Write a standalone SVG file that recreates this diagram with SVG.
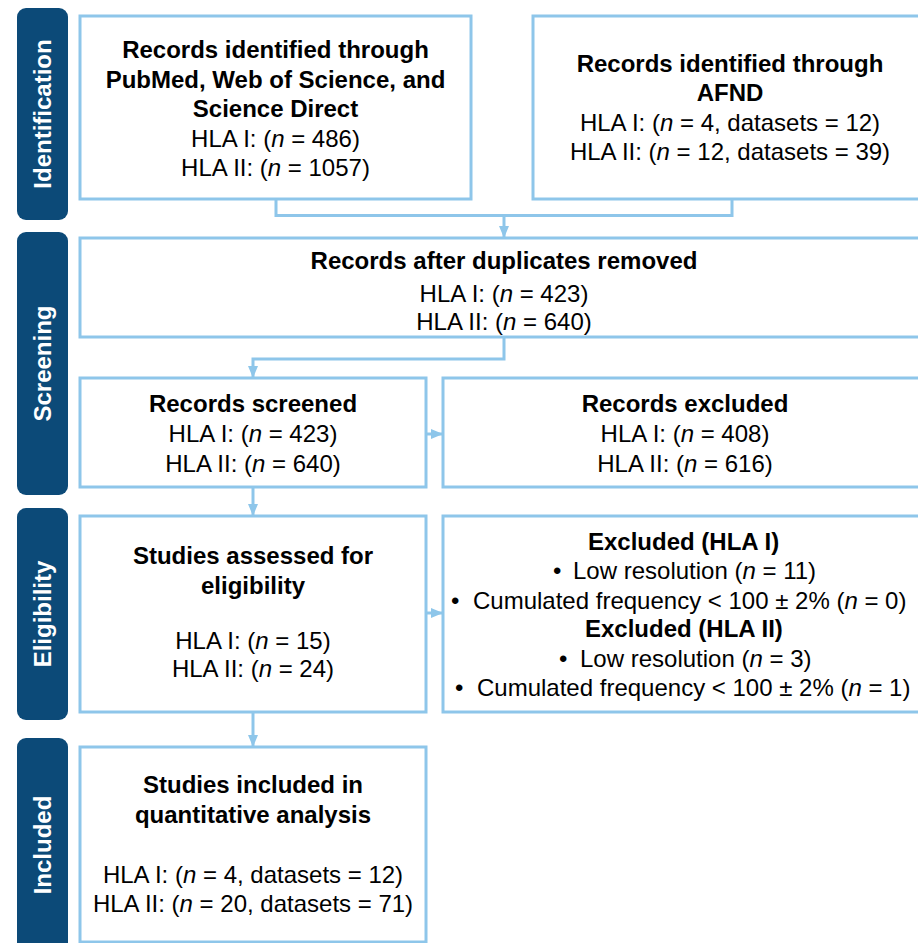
<svg xmlns="http://www.w3.org/2000/svg" width="918" height="943" viewBox="0 0 918 943">
<style>
.bg{fill:#ffffff}
.side{fill:#0c4a78}
.sl{fill:#ffffff;font-family:"Liberation Sans",Arial,sans-serif;font-weight:bold;font-size:24px;text-anchor:middle}
.box{fill:#ffffff;stroke:#8ec6ea;stroke-width:3}
.t{font-family:"Liberation Sans",Arial,sans-serif;font-size:24px;fill:#000000;text-anchor:middle}
.ts{font-family:"Liberation Sans",Arial,sans-serif;font-size:24px;fill:#000000}
.b{font-weight:bold}
.i{font-style:italic}
.con{fill:none;stroke:#8ec6ea;stroke-width:3}
</style>
<defs>
<marker id="ah" markerUnits="userSpaceOnUse" markerWidth="12" markerHeight="12" viewBox="0 0 12 12" refX="12" refY="6" orient="auto">
<path d="M0,1 L12,6 L0,11 Z" fill="#8ec6ea"/>
</marker>
</defs>
<rect class="bg" x="0" y="0" width="918" height="943"/>
<g id="phases">
<g id="phase-identification"><rect class="side" x="17" y="8" width="51" height="212" rx="9"/><text class="sl" transform="translate(50.5,114) rotate(-90)">Identification</text></g>
<g id="phase-screening"><rect class="side" x="17" y="232" width="51" height="263" rx="9"/><text class="sl" transform="translate(50.5,363.5) rotate(-90)">Screening</text></g>
<g id="phase-eligibility"><rect class="side" x="17" y="508" width="51" height="212" rx="9"/><text class="sl" transform="translate(50.5,614) rotate(-90)">Eligibility</text></g>
<g id="phase-included"><rect class="side" x="17" y="738" width="51" height="214" rx="9"/><text class="sl" transform="translate(50.5,845) rotate(-90)">Included</text></g>
</g>
<g id="connectors">
<path class="con" d="M276 199 V215.5 H732 V199"/>
<path class="con" d="M504 215.5 V238" marker-end="url(#ah)"/>
<path class="con" d="M504 337 V359 H253 V378" marker-end="url(#ah)"/>
<path class="con" d="M426 434 H443" marker-end="url(#ah)"/>
<path class="con" d="M253 487 V516" marker-end="url(#ah)"/>
<path class="con" d="M426 613 H443" marker-end="url(#ah)"/>
<path class="con" d="M253 712 V747" marker-end="url(#ah)"/>
</g>
<g id="node-databases">
<rect class="box" x="80" y="16" width="391" height="183"/>
<text class="t b" x="275.5" y="58">Records identified through</text>
<text class="t b" x="275.5" y="87.5">PubMed, Web of Science, and</text>
<text class="t b" x="275.5" y="117">Science Direct</text>
<text class="t" x="275.5" y="146.5">HLA I: (<tspan class="i">n</tspan> = 486)</text>
<text class="t" x="275.5" y="176">HLA II: (<tspan class="i">n</tspan> = 1057)</text>
</g>
<g id="node-afnd">
<rect class="box" x="533" y="16" width="395" height="183"/>
<text class="t b" x="730" y="72">Records identified through</text>
<text class="t b" x="730" y="101">AFND</text>
<text class="t" x="730" y="130.5">HLA I: (<tspan class="i">n</tspan> = 4, datasets = 12)</text>
<text class="t" x="730" y="160">HLA II: (<tspan class="i">n</tspan> = 12, datasets = 39)</text>
</g>
<g id="node-duplicates">
<rect class="box" x="80" y="238" width="848" height="99"/>
<text class="t b" x="504" y="269">Records after duplicates removed</text>
<text class="t" x="504" y="302">HLA I: (<tspan class="i">n</tspan> = 423)</text>
<text class="t" x="504" y="330">HLA II: (<tspan class="i">n</tspan> = 640)</text>
</g>
<g id="node-screened">
<rect class="box" x="80" y="378" width="346" height="109"/>
<text class="t b" x="253" y="412">Records screened</text>
<text class="t" x="253" y="442">HLA I: (<tspan class="i">n</tspan> = 423)</text>
<text class="t" x="253" y="472">HLA II: (<tspan class="i">n</tspan> = 640)</text>
</g>
<g id="node-excluded-records">
<rect class="box" x="443" y="378" width="485" height="109"/>
<text class="t b" x="685" y="412">Records excluded</text>
<text class="t" x="685" y="442">HLA I: (<tspan class="i">n</tspan> = 408)</text>
<text class="t" x="685" y="472">HLA II: (<tspan class="i">n</tspan> = 616)</text>
</g>
<g id="node-assessed">
<rect class="box" x="80" y="516" width="346" height="196"/>
<text class="t b" x="253" y="564">Studies assessed for</text>
<text class="t b" x="253" y="594">eligibility</text>
<text class="t" x="253" y="649">HLA I: (<tspan class="i">n</tspan> = 15)</text>
<text class="t" x="253" y="677">HLA II: (<tspan class="i">n</tspan> = 24)</text>
</g>
<g id="node-excluded-studies">
<rect class="box" x="443" y="516" width="485" height="196"/>
<text class="ts b" x="588" y="550">Excluded (HLA I)</text>
<text class="ts" x="553" y="579">•</text>
<text class="ts" x="573" y="579">Low resolution (<tspan class="i">n</tspan> = 11)</text>
<text class="ts" x="451" y="609">•</text>
<text class="ts" x="473" y="609">Cumulated frequency &lt; 100 ± 2% (<tspan class="i">n</tspan> = 0)</text>
<text class="ts b" x="585" y="637">Excluded (HLA II)</text>
<text class="ts" x="559" y="667">•</text>
<text class="ts" x="580" y="667">Low resolution (<tspan class="i">n</tspan> = 3)</text>
<text class="ts" x="455" y="696">•</text>
<text class="ts" x="477" y="696">Cumulated frequency &lt; 100 ± 2% (<tspan class="i">n</tspan> = 1)</text>
</g>
<g id="node-included">
<rect class="box" x="80" y="747" width="346" height="195"/>
<text class="t b" x="253" y="793">Studies included in</text>
<text class="t b" x="253" y="823">quantitative analysis</text>
<text class="t" x="253" y="883">HLA I: (<tspan class="i">n</tspan> = 4, datasets = 12)</text>
<text class="t" x="253" y="912">HLA II: (<tspan class="i">n</tspan> = 20, datasets = 71)</text>
</g>
</svg>
